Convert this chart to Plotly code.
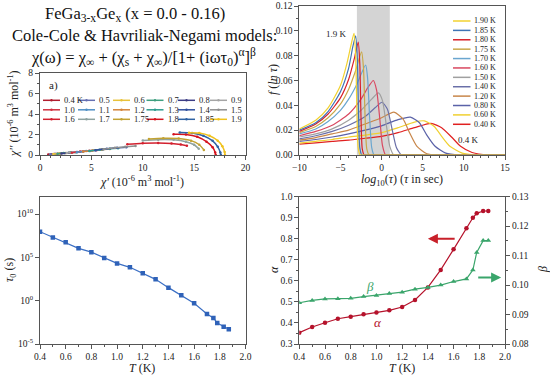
import plotly.graph_objects as go

W, H = 550, 376
FONT = "Liberation Serif"
AX = "#555555"


def px(x):
    return x / W


def py(y):
    return 1 - y / H


# ---------------- Panel a: Cole-Cole plots ----------------
cc_labels = ["0.4 K", "0.5", "0.6", "0.7", "0.8", "0.9",
             "1.0", "1.1", "1.2", "1.3", "1.4", "1.5",
             "1.6", "1.7", "1.75", "1.8", "1.85", "1.9"]
cc_colors = ["#b01c2e", "#6670b2", "#e8c23a", "#3f9f7f", "#3d3d85", "#a5a5a5",
             "#d0303f", "#4f8fc4", "#d4843a", "#2e9c8e", "#30509e", "#8f8f8f",
             "#d2202e", "#8fa3a0", "#c2a232", "#d5141e", "#2f62a3", "#f0c21e"]
cc_chi1 = [
    [0.8, 1.1, 1.4, 1.7, 1.9],
    [1.0, 1.5, 2.0, 2.4],
    [1.3, 1.9, 2.5, 2.9],
    [1.7, 2.3, 3.0, 3.5],
    [2.1, 2.8, 3.6, 4.2],
    [2.6, 3.4, 4.2, 4.9],
    [3.1, 3.9, 4.8, 5.5],
    [3.6, 4.5, 5.4, 6.1],
    [4.2, 5.1, 6.0, 6.8],
    [4.8, 5.8, 6.8, 7.6],
    [5.4, 6.5, 7.5, 8.4],
    [6.2, 7.3, 8.3, 9.3],
    [8.5, 10.0, 11.5, 12.8, 13.7, 14.3],
    [10.0, 11.5, 13.0, 14.2, 15.0, 15.45],
    [10.6, 12.0, 13.5, 14.7, 15.5, 15.95],
    [13.0, 14.2, 15.3, 16.2, 16.8, 17.05, 17.1],
    [13.6, 14.8, 15.9, 16.8, 17.3, 17.55, 17.6],
    [14.5, 15.5, 16.5, 17.3, 17.75, 17.97, 18.0],
]
cc_chi2 = [
    [0.05, 0.08, 0.10, 0.11, 0.12],
    [0.07, 0.12, 0.15, 0.17],
    [0.09, 0.15, 0.19, 0.22],
    [0.12, 0.19, 0.25, 0.28],
    [0.15, 0.23, 0.30, 0.34],
    [0.19, 0.28, 0.35, 0.40],
    [0.23, 0.33, 0.41, 0.46],
    [0.28, 0.39, 0.47, 0.52],
    [0.33, 0.45, 0.53, 0.58],
    [0.40, 0.52, 0.61, 0.66],
    [0.47, 0.60, 0.70, 0.76],
    [0.56, 0.70, 0.81, 0.88],
    [1.05, 1.15, 1.18, 1.13, 1.02, 0.90],
    [1.42, 1.50, 1.48, 1.30, 1.00, 0.60],
    [1.55, 1.63, 1.60, 1.40, 1.00, 0.50],
    [2.02, 2.00, 1.78, 1.30, 0.75, 0.25, 0.0],
    [2.20, 2.15, 1.88, 1.38, 0.80, 0.25, 0.0],
    [2.18, 2.14, 1.88, 1.40, 0.85, 0.30, 0.0],
]

# ---------------- Panel b: distribution functions ----------------
dist_labels = ["1.90 K", "1.85 K", "1.80 K", "1.75 K", "1.70 K", "1.60 K",
               "1.50 K", "1.40 K", "1.20 K", "0.80 K", "0.60 K", "0.40 K"]
dist_colors = ["#f2d230", "#3f74b5", "#d8202a", "#c9a84a", "#6aa6cf", "#d94860",
               "#a0a0a0", "#6a6fa8", "#c8864a", "#5a62a8", "#f0d030", "#e02020"]
dist_logtau = [
    [-10, -8, -6.5, -5, -4.2, -3.7, -3.35, -3.15, -3.0, -2.85, -2.6, -2.3, 15],
    [-10, -8, -6.5, -5, -4.0, -3.5, -3.15, -2.95, -2.8, -2.65, -2.4, -2.1, 15],
    [-10, -8, -6.5, -5, -4.0, -3.3, -2.84, -2.65, -2.5, -2.35, -2.1, -1.8, 15],
    [-10, -8, -6.5, -5, -4.0, -3.2, -2.43, -2.2, -2.0, -1.8, -1.5, -1.2, 15],
    [-10, -8, -6.5, -5, -4.0, -3.0, -1.94, -1.7, -1.45, -1.2, -0.9, -0.6, 15],
    [-10, -8, -6, -4, -2.5, -1.6, -1.0, -0.6, -0.2, 0.1, 0.5, 0.8, 15],
    [-10, -8, -6, -4, -2.5, -1.2, -0.4, 0.1, 0.6, 1.0, 1.5, 1.8, 15],
    [-10, -8, -6, -4, -2, -0.8, 0.05, 0.7, 1.3, 1.8, 2.4, 2.7, 15],
    [-10, -8, -6, -4, -2, 0, 1.5, 2.6, 3.4, 4.3, 5.5, 7.0, 7.5, 15],
    [-10, -8, -6, -4, -2, 0, 2, 3.5, 4.6, 5.5, 6.5, 7.8, 9.5, 10, 15],
    [-10, -8, -6, -4, -2, 0, 2, 4, 5.2, 6.4, 7.3, 8.3, 9.8, 11.5, 12, 15],
    [-10, -8, -6, -4, -2, 0, 2, 4, 6, 7.3, 8.5, 9.6, 11, 13, 13.5, 15],
]
dist_f = [
    [0.021, 0.028, 0.038, 0.056, 0.074, 0.089, 0.098, 0.080, 0.035, 0.006, 0.0, 0.0, 0.0],
    [0.020, 0.026, 0.035, 0.051, 0.070, 0.087, 0.096, 0.078, 0.033, 0.006, 0.0, 0.0, 0.0],
    [0.019, 0.025, 0.033, 0.046, 0.061, 0.078, 0.091, 0.074, 0.030, 0.005, 0.0, 0.0, 0.0],
    [0.018, 0.023, 0.030, 0.041, 0.053, 0.067, 0.083, 0.070, 0.030, 0.005, 0.0, 0.0, 0.0],
    [0.017, 0.021, 0.027, 0.036, 0.045, 0.057, 0.0725, 0.062, 0.030, 0.006, 0.0, 0.0, 0.0],
    [0.0155, 0.019, 0.024, 0.033, 0.045, 0.055, 0.060, 0.052, 0.028, 0.008, 0.0, 0.0, 0.0],
    [0.0145, 0.017, 0.021, 0.028, 0.036, 0.045, 0.050, 0.044, 0.023, 0.007, 0.0, 0.0, 0.0],
    [0.013, 0.0155, 0.019, 0.024, 0.031, 0.038, 0.0425, 0.037, 0.020, 0.006, 0.0, 0.0, 0.0],
    [0.012, 0.014, 0.017, 0.020, 0.025, 0.030, 0.0345, 0.029, 0.018, 0.007, 0.001, 0.0, 0.0, 0.0],
    [0.011, 0.0125, 0.0145, 0.017, 0.020, 0.0235, 0.0285, 0.0305, 0.026, 0.016, 0.007, 0.0015, 0.0, 0.0, 0.0],
    [0.0095, 0.011, 0.0125, 0.0145, 0.016, 0.018, 0.022, 0.0265, 0.0275, 0.023, 0.015, 0.007, 0.0015, 0.0, 0.0, 0.0],
    [0.0088, 0.0098, 0.011, 0.012, 0.0135, 0.015, 0.018, 0.022, 0.0255, 0.022, 0.0145, 0.007, 0.002, 0.0, 0.0, 0.0],
]

# ---------------- Panels c, d: fit parameters ----------------
T_fit = [0.4, 0.5, 0.6, 0.7, 0.8, 0.9, 1.0, 1.1, 1.2, 1.3, 1.4, 1.5, 1.6, 1.7, 1.75, 1.78, 1.83, 1.87]
tau0 = [9.1e7, 2.0e7, 5.4e6, 1.1e6, 4.0e5, 8.3e4, 2.0e4, 7.1e3, 1.5e3, 2.9e2, 32, 4.2,
        0.49, 0.029, 0.010, 2.6e-3, 1.0e-3, 5.0e-4]
alpha = [0.354, 0.381, 0.401, 0.420, 0.430, 0.441, 0.450, 0.460, 0.476, 0.509, 0.569, 0.652,
         0.750, 0.850, 0.900, 0.921, 0.932, 0.932]
beta = [0.0940, 0.0948, 0.0953, 0.0954, 0.0955, 0.0961, 0.0965, 0.0971, 0.0976, 0.0986,
        0.0992, 0.1000, 0.1012, 0.1021, 0.1051, 0.1111, 0.1151, 0.1151]

tau_tickvals = [1e-5, 1, 1e5, 1e10]
tau_ticktext = ["10<sup>-5</sup>", "10<sup>0</sup>", "10<sup>5</sup>", "10<sup>10</sup>"]

fig = go.Figure()

for lab, col, xs, ys in zip(cc_labels, cc_colors, cc_chi1, cc_chi2):
    fig.add_trace(go.Scatter(x=xs, y=ys, mode="lines+markers", name=lab,
                             line=dict(color=col, width=1.5, shape="spline", smoothing=0.8),
                             marker=dict(size=2.5, color=col),
                             xaxis="x", yaxis="y", showlegend=False))

for lab, col, xs, ys in zip(dist_labels[::-1], dist_colors[::-1], dist_logtau[::-1], dist_f[::-1]):
    fig.add_trace(go.Scatter(x=xs, y=ys, mode="lines", name=lab,
                             line=dict(color=col, width=1.2, shape="spline", smoothing=0.6),
                             xaxis="x2", yaxis="y2", showlegend=False))

fig.add_trace(go.Scatter(x=T_fit, y=tau0, mode="lines+markers",
                         line=dict(color="#3b6fc4", width=1.2),
                         marker=dict(symbol="square", size=4.5, color="#2f62b8"),
                         xaxis="x3", yaxis="y3", showlegend=False))

fig.add_trace(go.Scatter(x=T_fit, y=alpha, mode="lines+markers",
                         line=dict(color="#b5122b", width=1.2),
                         marker=dict(symbol="circle", size=4.5, color="#b5122b"),
                         xaxis="x4", yaxis="y4", showlegend=False))
fig.add_trace(go.Scatter(x=T_fit, y=beta, mode="lines+markers",
                         line=dict(color="#3aa56b", width=1.2),
                         marker=dict(symbol="triangle-up", size=5, color="#3aa56b"),
                         xaxis="x4", yaxis="y5", showlegend=False))


def axis(domain, anchor, rng, dtick, mdtick, fmt=None, **kw):
    d = dict(domain=domain, anchor=anchor, range=rng, dtick=dtick, automargin=False,
             showline=True, linecolor=AX, linewidth=1, mirror=True,
             ticks="outside", ticklen=4, tickcolor=AX, tickwidth=1,
             showgrid=False, zeroline=False,
             tickfont=dict(family=FONT, size=9.5, color="#222"),
             minor=dict(ticks="outside", ticklen=2, dtick=mdtick, tickcolor=AX, showgrid=False))
    if fmt:
        d["tickformat"] = fmt
    d.update(kw)
    return d


xa_dom = [px(40), px(245.5)]
xb_dom = [px(299.3), px(505)]
top_dom = [py(155), py(73)]
topb_dom = [py(155), py(6)]
bot_dom = [py(344), py(196.7)]

fig.update_layout(
    template="none",
    width=W, height=H,
    margin=dict(l=0, r=0, t=0, b=0, autoexpand=False),
    paper_bgcolor="white", plot_bgcolor="white",
    font=dict(family=FONT, color="#222"),
    showlegend=False,
    xaxis=axis(xa_dom, "y", [0, 20], 5, 1),
    yaxis=axis(top_dom, "x", [0, 8], 2, 1),
    xaxis2=axis(xb_dom, "y2", [-10, 15], 5, 1),
    yaxis2=axis(topb_dom, "x2", [0, 0.12], 0.02, 0.01, ".2f"),
    xaxis3=axis(xa_dom, "y3", [0.4, 2.0], 0.2, 0.1, ".1f"),
    yaxis3=axis(bot_dom, "x3", [-5, 12], None, None, type="log",
                tickvals=tau_tickvals, ticktext=tau_ticktext),
    xaxis4=axis(xb_dom, "y4", [0.4, 2.0], 0.2, 0.1, ".1f"),
    yaxis4=axis(bot_dom, "x4", [0.3, 1.0], 0.1, 0.05, ".1f", mirror=False),
    yaxis5=axis(bot_dom, "x4", [0.08, 0.13], 0.01, 0.005, ".2f", mirror=False,
                overlaying="y4", side="right"),
)
fig.layout.yaxis3.minor = dict(ticks="")

shapes = [dict(type="rect", xref="x2", yref="y2 domain", x0=-3, x1=1, y0=0, y1=1,
               fillcolor="#d4d4d4", line=dict(width=0), layer="below")]
ann = []


def pann(text, x, y, size, color="#222", xanchor="center", angle=0):
    return dict(text=text, x=px(x), y=py(y), xref="paper", yref="paper",
                xanchor=xanchor, yanchor="middle", showarrow=False, textangle=angle,
                font=dict(family=FONT, size=size, color=color))


# Titles
title_lines = ["FeGa<sub>3-x</sub>Ge<sub>x</sub> (x = 0.0 - 0.16)",
               "Cole-Cole & Havriliak-Negami models:",
               "χ(ω) = χ<sub>∞</sub> + (χ<sub>s</sub> + χ<sub>∞</sub>)/[1+ (iωτ<sub>0</sub>)<sup>α</sup>]<sup>β</sup>"]
for t, (cx, cy) in zip(title_lines, [(135, 14), (144, 35), (143, 57)]):
    ann.append(pann(t, cx, cy, 16.5, "#111"))

# Axis titles
axis_titles = [
    ("<i>χ''</i> (10<sup>-6</sup> m<sup>3</sup> mol<sup>-1</sup>)", 13, 114, -90),
    ("<i>χ'</i> (10<sup>-6</sup> m<sup>3</sup> mol<sup>-1</sup>)", 142, 181, 0),
    ("<i>f</i> (<i>ln</i> <i>τ</i>)", 273, 80, -90),
    ("<i>log</i><sub>10</sub>(<i>τ</i>) (<i>τ</i> in sec)", 402, 180, 0),
    ("<i>τ</i><sub>0</sub> (s)", 10, 270, -90),
    ("<i>T</i> (K)", 142, 367.5, 0),
    ("<i>α</i>", 274, 270, -90),
    ("<i>β</i>", 543, 270, -90),
    ("<i>T</i> (K)", 402, 367.5, 0),
]
for t, cx, cy, ang in axis_titles:
    ann.append(pann(t, cx, cy, 12, angle=ang))

ann.append(pann("a)", 47, 85, 11, xanchor="left"))

# Panel a legend (6 columns x 3 rows)
col_x = [43, 78, 113, 146.5, 178, 210]
for i, (lab, col) in enumerate(zip(cc_labels, cc_colors)):
    r, c = divmod(i, 6)
    x0 = col_x[c]
    yy = 100.3 + r * 9.5
    shapes.append(dict(type="line", xref="paper", yref="paper", x0=px(x0), x1=px(x0 + 17),
                       y0=py(yy), y1=py(yy), line=dict(color=col, width=1.5)))
    shapes.append(dict(type="circle", xref="paper", yref="paper", x0=px(x0 + 7.3), x1=px(x0 + 9.7),
                       y0=py(yy + 1.2), y1=py(yy - 1.2), fillcolor=col, line=dict(width=0)))
    ann.append(pann(lab, x0 + 19, yy, 8.5, xanchor="left"))

# Panel b legend
for i, (lab, col) in enumerate(zip(dist_labels, dist_colors)):
    yy = 21 + i * 9.39
    shapes.append(dict(type="line", xref="paper", yref="paper", x0=px(453), x1=px(470.5),
                       y0=py(yy), y1=py(yy), line=dict(color=col, width=1.5)))
    ann.append(pann(lab, 471.5, yy, 8, xanchor="left"))

ann.append(dict(text="1.9 K", x=-5.45, y=0.0976, xref="x2", yref="y2", showarrow=False,
                font=dict(family=FONT, size=9, color="#222")))
ann.append(dict(text="0.4 K", x=10.6, y=0.012, xref="x2", yref="y2", showarrow=False,
                font=dict(family=FONT, size=9, color="#222")))

# Panel d labels and arrows
ann.append(dict(text="<i>β</i>", x=0.95, y=0.575, xref="x4", yref="y4", showarrow=False,
                font=dict(family=FONT, size=13, color="#3aa56b")))
ann.append(dict(text="<i>α</i>", x=1.01, y=0.40, xref="x4", yref="y4", showarrow=False,
                font=dict(family=FONT, size=13, color="#b5122b")))
ann.append(dict(text="", x=1.40, y=0.80, ax=1.62, ay=0.80, xref="x4", yref="y4",
                axref="x4", ayref="y4", showarrow=True, arrowhead=2, arrowsize=1,
                arrowwidth=2, arrowcolor="#c8202a"))
ann.append(dict(text="", x=1.97, y=0.1026, ax=1.78, ay=0.1026, xref="x4", yref="y5",
                axref="x4", ayref="y5", showarrow=True, arrowhead=2, arrowsize=1,
                arrowwidth=2, arrowcolor="#3aa56b"))

fig.update_layout(shapes=shapes, annotations=ann)
fig.write_html("out.html", config={"displayModeBar": False},
               post_script="document.body.style.margin='0';document.body.style.overflow='hidden';")
